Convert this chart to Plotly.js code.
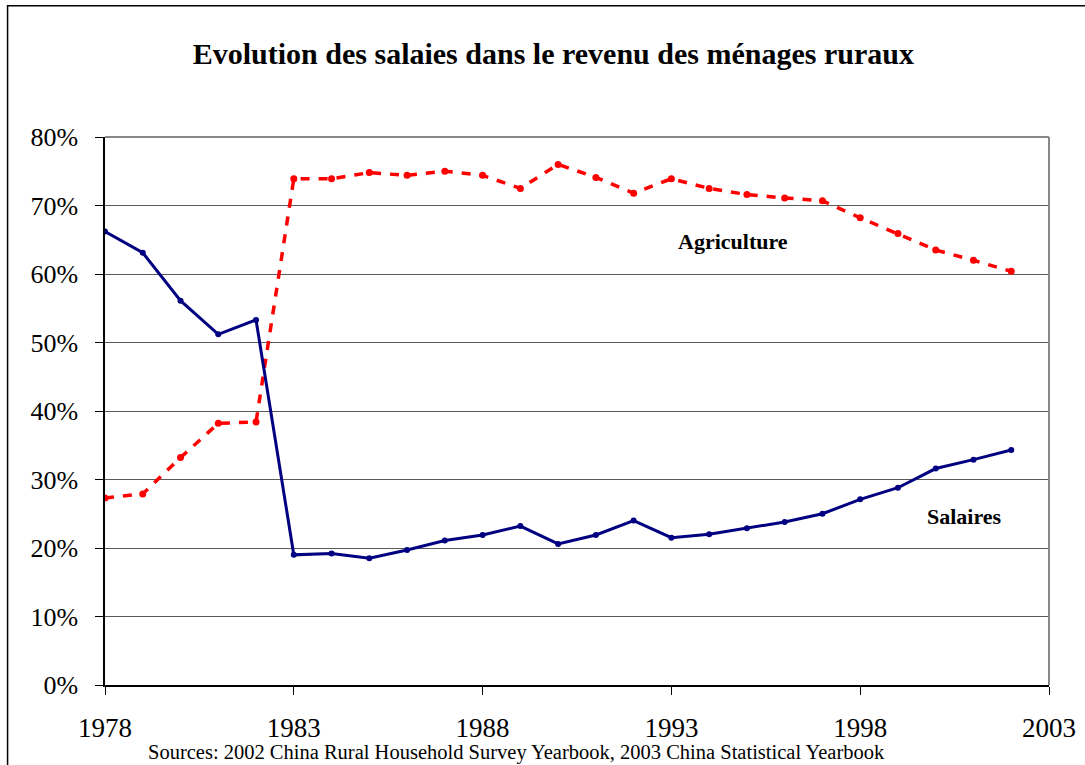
<!DOCTYPE html>
<html>
<head>
<meta charset="utf-8">
<script src="https://cdn.plot.ly/plotly-3.0.1.min.js"></script>
<style>
  html, body { margin: 0; padding: 0; background: #fff; overflow: hidden; }
  #chart { width: 1085px; height: 765px; }
</style>
</head>
<body>
<div id="chart"></div>
<script>
// Data
var years = [1978, 1979, 1980, 1981, 1982, 1983, 1984, 1985, 1986, 1987, 1988, 1989,
             1990, 1991, 1992, 1993, 1994, 1995, 1996, 1997, 1998, 1999, 2000, 2001, 2002];
var salaires = [0.662, 0.631, 0.561, 0.512, 0.533, 0.190, 0.192, 0.185, 0.197, 0.211,
                0.219, 0.232, 0.206, 0.219, 0.240, 0.215, 0.220, 0.229, 0.238, 0.250,
                0.271, 0.288, 0.316, 0.329, 0.343];
var agriculture = [0.273, 0.279, 0.332, 0.382, 0.384, 0.739, 0.739, 0.748, 0.744, 0.750,
                   0.744, 0.725, 0.760, 0.741, 0.718, 0.739, 0.725, 0.716, 0.711, 0.707,
                   0.682, 0.659, 0.635, 0.620, 0.604];
var xTicks = [1978, 1983, 1988, 1993, 1998, 2003];
var yTicks = [0, 0.1, 0.2, 0.3, 0.4, 0.5, 0.6, 0.7, 0.8];

var serif = "Liberation Serif, Times New Roman, serif";

var traces = [
  {
    x: years, y: agriculture, type: 'scatter', mode: 'lines+markers', name: 'Agriculture',
    line: { color: '#ff0000', width: 3.5, dash: '9px,9px' },
    marker: { color: '#ff0000', size: 7 },
    hoverinfo: 'x+y'
  },
  {
    x: years, y: salaires, type: 'scatter', mode: 'lines+markers', name: 'Salaires',
    line: { color: '#000080', width: 3 },
    marker: { color: '#000080', size: 6 },
    hoverinfo: 'x+y'
  }
];

var layout = {
  width: 1085, height: 765,
  margin: { l: 105, r: 36, t: 137, b: 80 },
  paper_bgcolor: '#ffffff', plot_bgcolor: '#ffffff',
  showlegend: false,
  font: { family: serif, color: '#000' },
  title: {
    text: '<b>Evolution des salaies dans le revenu des ménages ruraux</b>',
    font: { family: serif, size: 30, color: '#000' },
    x: 0.51, xanchor: 'center', y: 0.93, yanchor: 'middle'
  },
  xaxis: {
    range: [1978, 2003], tickvals: xTicks, ticktext: xTicks.map(String),
    showgrid: false, zeroline: false,
    showline: true, linecolor: '#000', linewidth: 1.5,
    ticks: 'outside', ticklen: 8, tickwidth: 1, tickcolor: '#000',
    tickfont: { family: serif, size: 27, color: '#000' },
    ticklabelstandoff: 10
  },
  yaxis: {
    range: [0, 0.8], tickvals: yTicks, tickformat: '.0%',
    showgrid: true, gridcolor: '#5a5a5a', gridwidth: 1, zeroline: false,
    showline: true, linecolor: '#000', linewidth: 1.5,
    ticks: 'outside', ticklen: 8, tickwidth: 1, tickcolor: '#000',
    tickfont: { family: serif, size: 26, color: '#000' },
    ticklabelstandoff: 12
  },
  shapes: [
    // outer chart border
    { type: 'rect', xref: 'paper', yref: 'paper', x0: -0.1032, x1: 1.2, y0: -0.2, y1: 1.2397,
      line: { color: '#000', width: 1.5 }, fillcolor: 'rgba(0,0,0,0)', layer: 'below' },
    // plot area top and right borders (gray)
    { type: 'line', xref: 'paper', yref: 'paper', x0: 0, x1: 1, y0: 1, y1: 1,
      line: { color: '#888', width: 2 } },
    { type: 'line', xref: 'paper', yref: 'paper', x0: 1, x1: 1, y0: 0, y1: 1,
      line: { color: '#888', width: 2 } }
  ],
  annotations: [
    { text: '<b>Agriculture</b>', x: 1994.63, y: 0.648, xref: 'x', yref: 'y', showarrow: false,
      font: { family: serif, size: 22, color: '#000' } },
    { text: '<b>Salaires</b>', x: 2000.75, y: 0.246, xref: 'x', yref: 'y', showarrow: false,
      font: { family: serif, size: 22, color: '#000' } },
    { text: 'Sources: 2002 China Rural Household Survey Yearbook, 2003 China Statistical Yearbook',
      xref: 'paper', yref: 'paper', x: 0.436, y: -0.124, xanchor: 'center', yanchor: 'middle',
      showarrow: false, font: { family: serif, size: 20.5, color: '#000' } }
  ]
};

Plotly.newPlot('chart', traces, layout, { displayModeBar: false, staticPlot: false });
</script>
</body>
</html>
